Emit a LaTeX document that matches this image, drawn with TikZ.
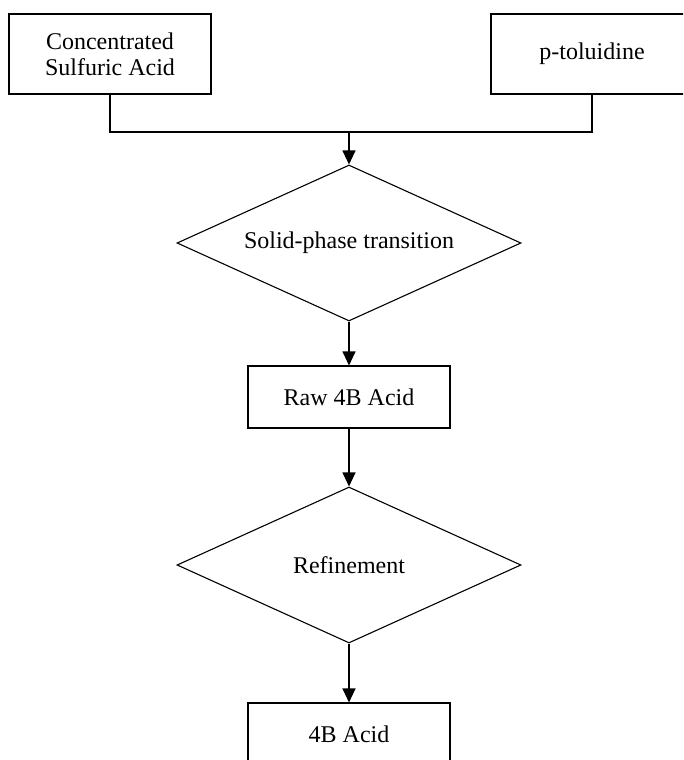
\documentclass[tikz,border=0pt]{standalone}
\usepackage{fontspec}
\setmainfont{Liberation Serif}
\usetikzlibrary{shapes.geometric,arrows.meta}
\begin{document}
\begin{tikzpicture}[x=1pt,y=-1pt,
  every node/.style={font=\fontsize{24}{26}\selectfont, align=center, inner sep=0pt},
  stepbox/.style={draw, line width=1.1pt, rectangle, minimum width=202pt, minimum height=80pt},
  decision/.style={draw, line width=1.1pt, diamond, shape aspect=2.2, minimum width=344pt, minimum height=156pt},
  link/.style={line width=1.1pt},
  flow/.style={line width=1.1pt, -{Triangle[length=14pt,width=13pt]}}]
  \clip (0,0) rectangle (683,760);
  \useasboundingbox (0,0) rectangle (683,760);

  % raw materials
  \node[stepbox] (acid) at (110,54) {Concentrated\\Sulfuric Acid};
  \node[stepbox] (tol) at (592,54) {p-toluidine};

  % process chain
  \node[decision] (solid) at (349,243) {Solid-phase transition};
  \node[stepbox, minimum height=62pt] (raw) at (349,397) {Raw 4B Acid};
  \node[decision] (refine) at (349,565) {Refinement};
  \node[stepbox, minimum height=62pt] (final) at (349,734) {4B Acid};

  % merge of the two feeds
  \coordinate (join) at (349,132);
  \draw[link] (acid.south) |- (join) -| (tol.south);
  \draw[flow] (join) -- (solid.north);
  \draw[flow] (solid.south) -- (raw.north);
  \draw[flow] (raw.south) -- (refine.north);
  \draw[flow] (refine.south) -- (final.north);
\end{tikzpicture}
\end{document}
